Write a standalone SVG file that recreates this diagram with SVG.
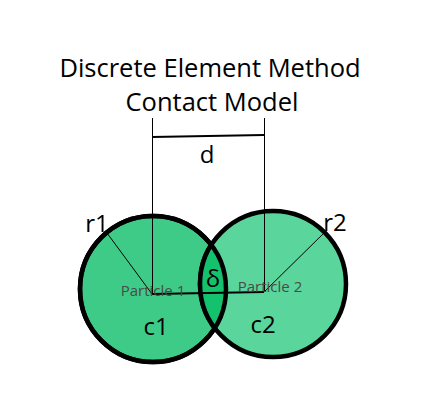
<svg xmlns="http://www.w3.org/2000/svg" width="422" height="400" viewBox="0 0 422 400">
<style>
.title{font-family:"Open Sans","Noto Sans",sans-serif;font-size:25.5px;fill:#000;text-anchor:middle}
.lbl{font-family:"Open Sans","Noto Sans",sans-serif;font-size:24px;fill:#000;text-anchor:middle}
.pl{font-family:"Open Sans","Noto Sans",sans-serif;font-size:15px;fill:#4a4a4a;text-anchor:middle}
.thin{stroke:#000;stroke-width:1;fill:none}
.ball{stroke:#000;stroke-width:4.5}
</style>
<rect width="422" height="400" fill="#fff"/>
<g id="title">
<text class="title" x="210" y="77">Discrete Element Method</text>
<text class="title" x="212" y="111">Contact Model</text>
</g>
<g id="particle1">
<circle class="ball" cx="153" cy="289" r="73" fill="#3ecb88"/>
</g>
<g id="particle2">
<circle class="ball" cx="273" cy="284" r="73" fill="#5ad59b"/>
</g>
<g id="overlap">
<clipPath id="c1clip"><circle cx="153" cy="289" r="73"/></clipPath>
<circle cx="273" cy="284" r="73" fill="#14c16c" clip-path="url(#c1clip)"/>
<circle cx="153" cy="289" r="73" fill="none" stroke="#000" stroke-width="4.5"/>
<circle cx="273" cy="284" r="73" fill="none" stroke="#000" stroke-width="4.5" clip-path="url(#c1clip)"/>
</g>
<g id="connectors">
<line class="thin" x1="152.5" y1="118" x2="152.5" y2="294"/>
<line class="thin" x1="264.5" y1="118" x2="264.5" y2="292"/>
<line x1="152" y1="137" x2="264" y2="135" stroke="#000" stroke-width="2"/>
<line x1="152" y1="294" x2="264" y2="292" stroke="#000" stroke-width="2"/>
<line class="thin" x1="107" y1="233" x2="152" y2="294"/>
<line class="thin" x1="325" y1="232" x2="264" y2="292"/>
</g>
<g id="labels">
<text class="lbl" x="207" y="163">d</text>
<text class="lbl" x="97" y="232">r1</text>
<text class="lbl" x="335" y="231">r2</text>
<text class="lbl" x="156" y="335">c1</text>
<text class="lbl" x="263" y="333">c2</text>
<text class="lbl" x="213" y="287">δ</text>
<text class="pl" x="153" y="296">Particle 1</text>
<text class="pl" x="270" y="292">Particle 2</text>
</g>
</svg>
